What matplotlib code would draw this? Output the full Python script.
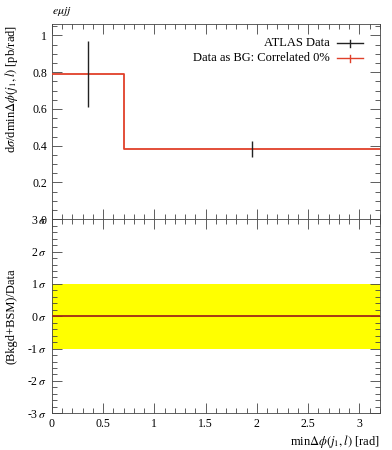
import numpy as np
import matplotlib
matplotlib.use('Agg')
import matplotlib.pyplot as plt
from matplotlib.ticker import MultipleLocator, FuncFormatter

# bins and values
edges = [0.0, 0.7, 3.2]
bg_values = [0.79, 0.38]
data_x = [0.35, 1.95]
data_y = [0.79, 0.38]
data_err = [0.18, 0.043]
ratio_values = [0.0, 0.0]
band_lo, band_hi = -1.0, 1.0

plt.rcParams['font.family'] = ['Liberation Serif', 'DejaVu Serif']
plt.rcParams['mathtext.fontset'] = 'stix'
plt.rcParams['font.size'] = 8.5

red = '#e0402a'
tick_col = '#444444'

fig = plt.figure(figsize=(3.92, 4.5), dpi=100)
ax = fig.add_axes([0.132, 0.5127, 0.837, 0.4333])
axr = fig.add_axes([0.132, 0.0816, 0.837, 0.4311], sharex=ax)

# main panel
steps = np.append(bg_values, bg_values[-1])
ax.step(edges, steps, where='post', color=red, lw=1.3, zorder=3)
ax.errorbar(data_x, data_y, yerr=data_err, fmt='none', ecolor='#222222', elinewidth=1.0, capsize=0, zorder=4)
ax.set_xlim(edges[0], edges[-1])
ax.set_ylim(0, 1.06)
ax.yaxis.set_major_locator(MultipleLocator(0.2))
ax.yaxis.set_minor_locator(MultipleLocator(0.05))
ax.yaxis.set_major_formatter(FuncFormatter(lambda v, p: '%g' % round(v, 2)))
ax.tick_params(labelbottom=False)

# legend drawn by hand, rivet style
leg = [('ATLAS Data', '#222222'), ('Data as BG: Correlated 0%', red)]
for i, (lab, col) in enumerate(leg):
    yy = 0.904 - i * 0.077
    ax.text(0.848, yy, lab, transform=ax.transAxes, ha='right', va='center', fontsize=9)
    ax.plot([0.869, 0.948], [yy, yy], transform=ax.transAxes, color=col, lw=1.0)
    ax.plot([0.909, 0.909], [yy - 0.018, yy + 0.018], transform=ax.transAxes, color=col, lw=1.0)

# ratio panel
axr.fill_between([edges[0], edges[-1]], band_lo, band_hi, color='#ffff00', lw=0, zorder=1)
rsteps = np.append(ratio_values, ratio_values[-1])
axr.step(edges, rsteps, where='post', color='#a02818', lw=1.3, zorder=3)
axr.set_ylim(-3, 3)
axr.yaxis.set_major_locator(MultipleLocator(1))
axr.yaxis.set_minor_locator(MultipleLocator(0.2))
axr.yaxis.set_major_formatter(FuncFormatter(lambda v, p: '%d$\\,\\sigma$' % round(v)))
axr.xaxis.set_major_locator(MultipleLocator(0.5))
axr.xaxis.set_minor_locator(MultipleLocator(0.1))
axr.xaxis.set_major_formatter(FuncFormatter(lambda v, p: '%g' % round(v, 2)))

for a in (ax, axr):
    a.tick_params(which='both', direction='in', top=True, right=True, color=tick_col, width=0.6)
    a.tick_params(which='major', length=7)
    a.tick_params(which='minor', length=3.5)
    for s in a.spines.values():
        s.set_color(tick_col)
        s.set_linewidth(0.6)

fig.text(0.132, 0.975, r'$e\mu jj$', ha='left', va='center', fontsize=8.5)
fig.text(0.969, 0.018, r'min$\Delta\phi(j_1, l)$ [rad]', ha='right', va='center', fontsize=9)
fig.text(0.03, 0.944, r'd$\sigma$/dmin$\Delta\phi(j_1, l)$ [pb/rad]', rotation=90, ha='center', va='top', fontsize=9)
fig.text(0.03, 0.297, '(Bkgd+BSM)/Data', rotation=90, ha='center', va='center', fontsize=9)

fig.savefig('out.png', dpi=100)
